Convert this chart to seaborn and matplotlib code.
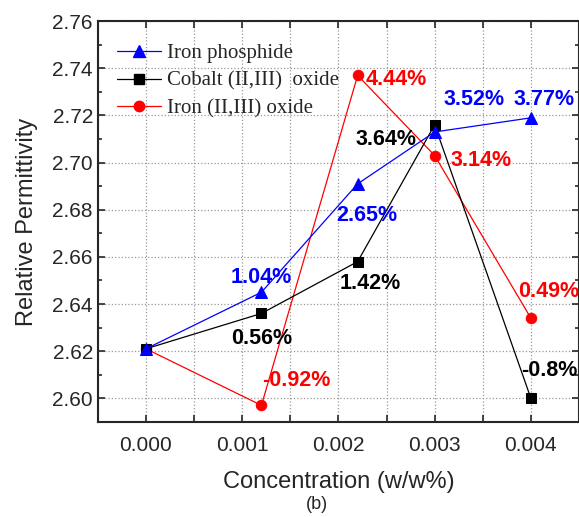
import matplotlib
matplotlib.use("Agg")
import matplotlib.pyplot as plt
from matplotlib.ticker import MultipleLocator, FuncFormatter
from matplotlib.lines import Line2D
import pandas as pd
import seaborn as sns

# ── data ─────────────────────────────────────────────────────────────────────
concentration = [0.0, 0.0012, 0.0022, 0.003, 0.004]
iron_phosphide = [2.621, 2.645, 2.691, 2.713, 2.719]
cobalt_oxide = [2.621, 2.636, 2.658, 2.716, 2.600]
iron_oxide = [2.621, 2.597, 2.737, 2.703, 2.634]

phosphide_labels = ["", "1.04%", "2.65%", "3.52%", "3.77%"]
cobalt_labels = ["", "0.56%", "1.42%", "3.64%", "-0.8%"]
oxide_labels = ["", "-0.92%", "4.44%", "3.14%", "0.49%"]

series_names = ["Iron phosphide", "Cobalt (II,III)  oxide", "Iron (II,III) oxide"]

sns.set_style("ticks")
plt.rcParams["font.family"] = ["Liberation Sans", "DejaVu Sans"]

fig = plt.figure(figsize=(5.79, 5.17), dpi=100)
ax = fig.add_axes([0.169, 0.184, 0.831, 0.775])

# style per series: color, marker, size, label offsets (px, px)
styles = {
    "Iron (II,III) oxide": dict(color="#ff0000", marker="o", ms=7.5,
                                offsets=[None, (35, 25), (39, -4), (46, -5), (18, 27)]),
    "Cobalt (II,III)  oxide": dict(color="#000000", marker="s", ms=6.5,
                                   offsets=[None, (0, -25), (13, -22), (-49, -15), (18, 28)]),
    "Iron phosphide": dict(color="#0000ff", marker="^", ms=8.5,
                           offsets=[None, (0, 15), (9, -32), (39, 32), (13, 18)]),
}
values = {
    "Iron phosphide": (iron_phosphide, phosphide_labels),
    "Cobalt (II,III)  oxide": (cobalt_oxide, cobalt_labels),
    "Iron (II,III) oxide": (iron_oxide, oxide_labels),
}

for name in ["Iron (II,III) oxide", "Cobalt (II,III)  oxide", "Iron phosphide"]:
    st = styles[name]
    y, labels = values[name]
    df = pd.DataFrame({"x": concentration, "y": y})
    sns.lineplot(data=df, x="x", y="y", ax=ax, color=st["color"], linewidth=0.9,
                 marker=st["marker"], markersize=st["ms"], markeredgecolor=st["color"],
                 sort=False, legend=False)
    for xi, yi, lab, off in zip(concentration, y, labels, st["offsets"]):
        if not lab:
            continue
        ax.annotate(lab, (xi, yi), xytext=(off[0] * 0.72, off[1] * 0.72),
                    textcoords="offset points", ha="center", va="center",
                    fontsize=15.5, fontweight="bold", color=st["color"],
                    annotation_clip=False)

ax.set_xlim(-0.0005, 0.0045)
ax.set_ylim(2.59, 2.76)
ax.xaxis.set_major_locator(MultipleLocator(0.0005))
ax.xaxis.set_major_formatter(FuncFormatter(
    lambda v, p: f"{v:.3f}" if abs(round(v / 0.001) - v / 0.001) < 1e-6 else ""))
ax.yaxis.set_major_locator(MultipleLocator(0.02))
ax.yaxis.set_minor_locator(MultipleLocator(0.01))
ax.yaxis.set_major_formatter(FuncFormatter(lambda v, p: f"{v:.2f}"))

ax.tick_params(which="both", direction="in", top=True, right=True, labelsize=15,
               width=1.2)
ax.tick_params(which="major", length=5)
ax.tick_params(which="minor", length=3)
ax.tick_params(axis="x", pad=10)
for sp in ax.spines.values():
    sp.set_linewidth(1.5)
    sp.set_visible(True)

ax.grid(True, which="major", linestyle=":", color="#999999", linewidth=0.9)

ax.set_xlabel("Concentration (w/w%)", fontsize=17, labelpad=12)
ax.set_ylabel("Relative Permittivity", fontsize=17, labelpad=10)
fig.text(0.548, 0.025, "(b)", fontsize=13, ha="center", va="center")

handles = [
    Line2D([], [], color=styles[n]["color"], marker=styles[n]["marker"],
           markersize=styles[n]["ms"], linewidth=0.9, label=n)
    for n in series_names
]
ax.legend(handles=handles, loc="upper left", frameon=False,
          prop={"family": "Liberation Serif", "size": 15},
          handlelength=2.1, handletextpad=0.3, labelspacing=0.38,
          borderaxespad=0.3, bbox_to_anchor=(0.01, 0.98))

fig.savefig("out.png", dpi=100)
